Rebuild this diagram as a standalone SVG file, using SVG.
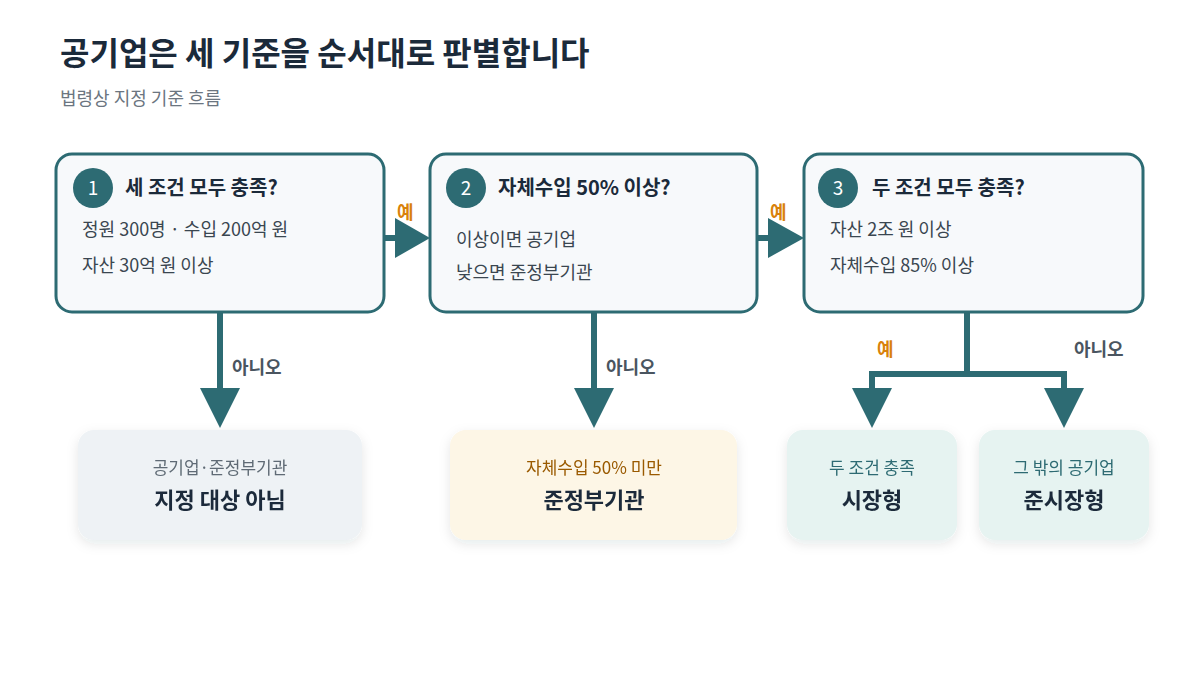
<svg xmlns="http://www.w3.org/2000/svg" width="1200" height="675" viewBox="0 0 1200 675">
<defs>
<filter id="sh" x="-20%" y="-20%" width="140%" height="150%"><feDropShadow dx="0" dy="4" stdDeviation="6" flood-color="#1b2a3a" flood-opacity="0.10"/></filter>
<style>
text{font-family:"Noto Sans CJK KR","Noto Sans",sans-serif}
.q{fill:#f7f9fb;stroke:#2d6b73;stroke-width:3}
.num{fill:#2d6b73}
.numt{fill:#fff;font-size:19px;text-anchor:middle}
.qt{fill:#1b2a3a;font-size:20px;font-weight:700}
.body{fill:#3a4650;font-size:18px}
.ln{stroke:#2d6b73;stroke-width:6;fill:none}
.ah{fill:#2d6b73}
.yes{fill:#d9820a;font-size:18px;font-weight:700}
.no{fill:#4a5560;font-size:18px;font-weight:700}
.small{font-size:17px;text-anchor:middle}
.big{font-size:22px;font-weight:700;fill:#1b2a3a;text-anchor:middle}
</style>
</defs>
<rect width="1200" height="675" fill="#fff"/>
<text x="60" y="65" font-size="32" font-weight="700" fill="#1b2a3a">공기업은 세 기준을 순서대로 판별합니다</text>
<text x="60" y="105" font-size="18" fill="#6b7580">법령상 지정 기준 흐름</text>

<g id="connectors">
<path class="ln" d="M384 238 H398"/><polygon class="ah" points="395,218 430,238 395,258"/>
<text class="yes" x="397" y="219">예</text>
<path class="ln" d="M757 238 H771"/><polygon class="ah" points="768,218 804,238 768,258"/>
<text class="yes" x="770" y="219">예</text>
<path class="ln" d="M220 312 V392"/><polygon class="ah" points="200,388 240,388 220,428"/>
<text class="no" x="232" y="374">아니오</text>
<path class="ln" d="M594 312 V392"/><polygon class="ah" points="574,388 614,388 594,428"/>
<text class="no" x="606" y="374">아니오</text>
<path class="ln" d="M967 312 V374 M872 392 V374 H1064 V392"/>
<polygon class="ah" points="852,388 892,388 872,428"/>
<polygon class="ah" points="1044,388 1084,388 1064,428"/>
<text class="yes" x="877" y="356">예</text>
<text class="no" x="1074" y="356">아니오</text>
</g>

<g id="q1">
<rect class="q" x="56" y="154" width="328" height="158" rx="16"/>
<circle class="num" cx="93" cy="188" r="20"/><text class="numt" x="93" y="195">1</text>
<text class="qt" x="125" y="195">세 조건 모두 충족?</text>
<text class="body" x="82" y="236">정원 300명 · 수입 200억 원</text>
<text class="body" x="82" y="272">자산 30억 원 이상</text>
</g>
<g id="q2">
<rect class="q" x="430" y="154" width="327" height="158" rx="16"/>
<circle class="num" cx="466" cy="188" r="20"/><text class="numt" x="466" y="195">2</text>
<text class="qt" x="498" y="195">자체수입 50% 이상?</text>
<text class="body" x="456" y="246">이상이면 공기업</text>
<text class="body" x="456" y="279">낮으면 준정부기관</text>
</g>
<g id="q3">
<rect class="q" x="804" y="154" width="339" height="158" rx="16"/>
<circle class="num" cx="838" cy="188" r="20"/><text class="numt" x="838" y="195">3</text>
<text class="qt" x="872" y="195">두 조건 모두 충족?</text>
<text class="body" x="830" y="236">자산 2조 원 이상</text>
<text class="body" x="830" y="272">자체수입 85% 이상</text>
</g>

<g id="r1" filter="url(#sh)">
<rect x="78" y="430" width="284" height="110" rx="16" fill="#eef2f5"/>
<text class="small" x="220" y="474" fill="#5f6b75">공기업·준정부기관</text>
<text class="big" x="220" y="508">지정 대상 아님</text>
</g>
<g id="r2" filter="url(#sh)">
<rect x="450" y="430" width="287" height="110" rx="16" fill="#fdf6e6"/>
<text class="small" x="594" y="474" fill="#9a5a00">자체수입 50% 미만</text>
<text class="big" x="594" y="508">준정부기관</text>
</g>
<g id="r3" filter="url(#sh)">
<rect x="787" y="430" width="170" height="110" rx="16" fill="#e6f3f1"/>
<text class="small" x="872" y="474" fill="#2d6b73">두 조건 충족</text>
<text class="big" x="872" y="508">시장형</text>
</g>
<g id="r4" filter="url(#sh)">
<rect x="979" y="430" width="170" height="110" rx="16" fill="#e6f3f1"/>
<text class="small" x="1064" y="474" fill="#2d6b73">그 밖의 공기업</text>
<text class="big" x="1064" y="508">준시장형</text>
</g>
</svg>
